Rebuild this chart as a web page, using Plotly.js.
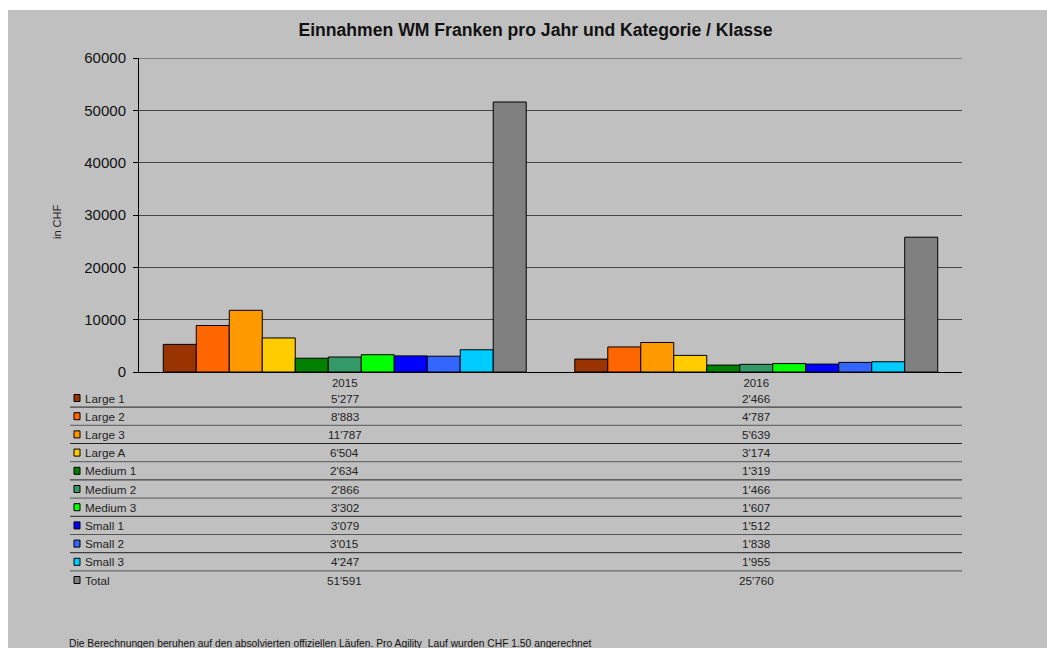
<!DOCTYPE html>
<html>
<head>
<meta charset="utf-8">
<script src="https://cdn.plot.ly/plotly-3.0.1.min.js"></script>
<style>
html,body{margin:0;padding:0;background:#ffffff;width:1047px;height:648px;overflow:hidden;}
#chart{position:absolute;left:8px;top:10px;width:1039px;height:638px;}
</style>
</head>
<body>
<div id="chart"></div>
<script>
const years = ['2015', '2016'];
const seriesNames = ['Large 1','Large 2','Large 3','Large A','Medium 1','Medium 2','Medium 3','Small 1','Small 2','Small 3','Total'];
const large1 = [5277, 2466];
const large2 = [8883, 4787];
const large3 = [11787, 5639];
const largeA = [6504, 3174];
const medium1 = [2634, 1319];
const medium2 = [2866, 1466];
const medium3 = [3302, 1607];
const small1 = [3079, 1512];
const small2 = [3015, 1838];
const small3 = [4247, 1955];
const total = [51591, 25760];
const seriesValues = [large1, large2, large3, largeA, medium1, medium2, medium3, small1, small2, small3, total];
const colors = ['#993300','#ff6600','#ff9900','#ffcc00','#008000','#339966','#00ff00','#0000ff','#3366ff','#00ccff','#808080'];
const yTicks = [0, 10000, 20000, 30000, 40000, 50000, 60000];

const W = 1039, H = 638;
const M = {l: 131, r: 85, t: 48, b: 276};
const plotH = H - M.t - M.b;
const plotW = W - M.l - M.r;
// convert div pixel coords to paper coords
const py = y => (H - M.b - y) / plotH;
const px = x => (x - M.l) / plotW;

function fmt(v){
  return String(v).replace(/\B(?=(\d{3})+(?!\d))/g, "'");
}

const font = 'Liberation Sans, Arial, sans-serif';

const traces = seriesNames.map((n, i) => ({
  type: 'bar',
  name: n,
  x: years,
  y: seriesValues[i],
  marker: {color: colors[i], line: {color: '#000000', width: 1}},
  hoverinfo: 'x+y+name'
}));

const annotations = [];
const shapes = [];
const rowStart = 388; // div pixel y of first row (Large 1)
const rowH = 18.2;
seriesNames.forEach((n, i) => {
  const y = rowStart + i * rowH;
  annotations.push({xref: 'paper', yref: 'paper', x: px(75), y: py(y), text: n, showarrow: false,
    xanchor: 'left', yanchor: 'middle', font: {family: font, size: 11.7, color: '#222'}});
  years.forEach((yr, j) => {
    annotations.push({xref: 'x', yref: 'paper', x: j, y: py(y), text: fmt(seriesValues[i][j]), showarrow: false,
      xanchor: 'center', yanchor: 'middle', font: {family: font, size: 11.7, color: '#222'}});
  });
  shapes.push({type: 'rect', xref: 'paper', yref: 'paper', x0: px(66), x1: px(72), y0: py(y - 3.5), y1: py(y + 3.5),
    fillcolor: colors[i], line: {color: '#000', width: 1}});
  if (i < seriesNames.length - 1) {
    shapes.push({type: 'line', xref: 'paper', yref: 'paper', x0: px(62), x1: 1, y0: py(y + rowH / 2), y1: py(y + rowH / 2),
      line: {color: i % 2 === 0 ? '#222' : '#555', width: 1}});
  }
});
// top gridline at the axis maximum
shapes.push({type: 'line', xref: 'paper', yref: 'y', x0: 0, x1: 1, y0: yTicks[yTicks.length - 1], y1: yTicks[yTicks.length - 1],
  line: {color: '#444', width: 1}});

annotations.push({xref: 'paper', yref: 'paper', x: px(49), y: py(212), text: 'in CHF', textangle: -90,
  showarrow: false, xanchor: 'center', yanchor: 'middle', font: {family: font, size: 11, color: '#222'}});
annotations.push({xref: 'paper', yref: 'paper', x: px(59), y: py(633), text: 'Die Berechnungen beruhen auf den absolvierten offiziellen Läufen. Pro Agility  Lauf wurden CHF 1.50 angerechnet',
  showarrow: false, xanchor: 'left', yanchor: 'middle', font: {family: font, size: 10.3, color: '#111'}});

const layout = {
  width: W, height: H,
  paper_bgcolor: '#c0c0c0', plot_bgcolor: '#c0c0c0',
  margin: M,
  showlegend: false,
  barmode: 'group', bargap: 0.118, bargroupgap: 0,
  title: {text: '<b>Einnahmen WM Franken pro Jahr und Kategorie / Klasse</b>', x: 527.5 / W, xref: 'container', xanchor: 'center',
    y: 1 - 20 / H, yref: 'container', yanchor: 'middle', font: {family: font, size: 17.6, color: '#111'}},
  xaxis: {type: 'category', showline: true, linecolor: '#000', linewidth: 1, ticks: '', showgrid: false,
    tickfont: {family: font, size: 11.5, color: '#222'}, ticklabelstandoff: 0},
  yaxis: {range: [0, 60000], tickvals: yTicks, ticktext: yTicks.map(String), showline: true, linecolor: '#000', linewidth: 1,
    ticks: 'outside', ticklen: 5, tickcolor: '#000', showgrid: true, gridcolor: '#444', gridwidth: 1, zeroline: false,
    ticklabelstandoff: 4, tickfont: {family: font, size: 15, color: '#111'}},
  annotations: annotations,
  shapes: shapes
};

Plotly.newPlot('chart', traces, layout, {displayModeBar: false, staticPlot: true});
</script>
</body>
</html>
